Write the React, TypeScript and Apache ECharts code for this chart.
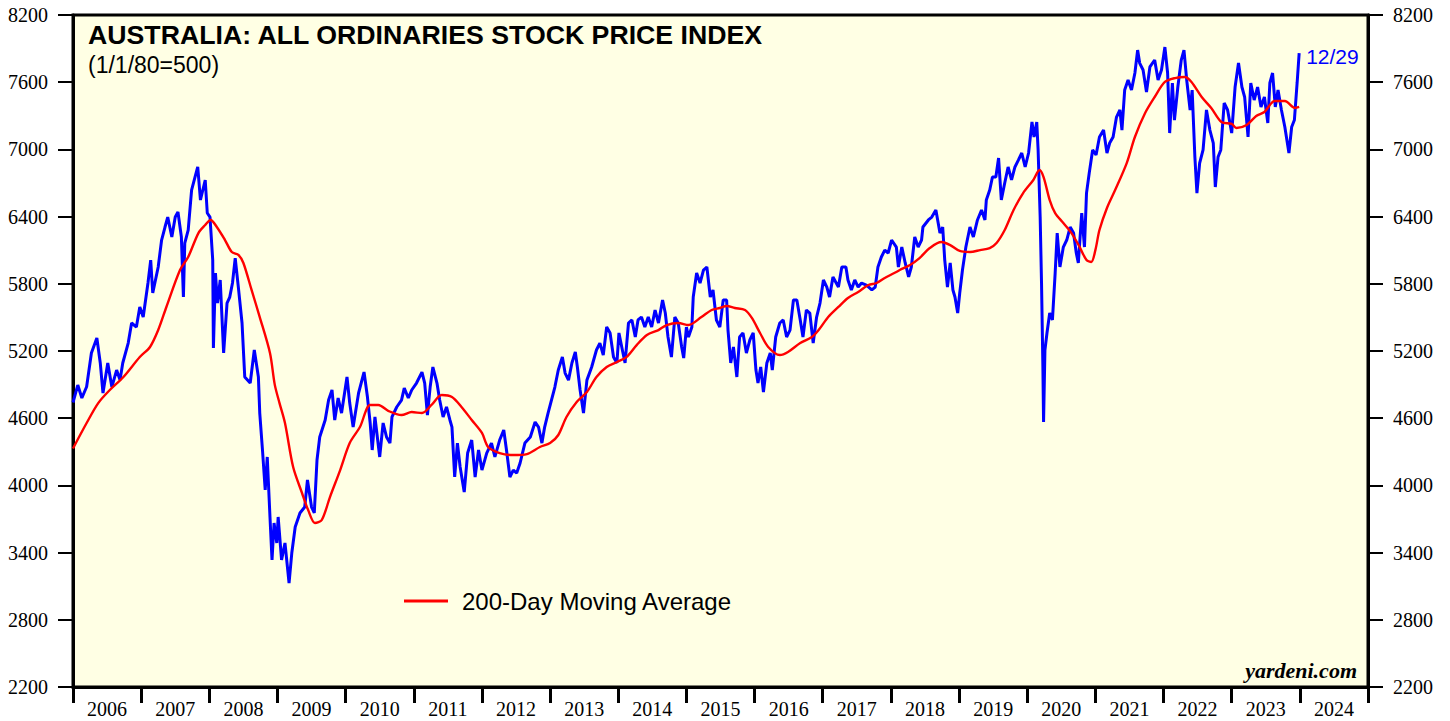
import React, { useEffect, useRef } from "react";
import * as echarts from "echarts";

const yearLabels = ["2006","2007","2008","2009","2010","2011","2012","2013","2014","2015","2016","2017","2018","2019","2020","2021","2022","2023","2024"];

// All Ordinaries (decimal year, index value)
const priceDates = [
2006.00,2006.07,2006.13,2006.20,2006.27,2006.35,2006.40,2006.44,2006.51,2006.57,2006.64,2006.69,2006.73,2006.81,2006.86,2006.93,2006.98,
2007.03,2007.10,2007.14,2007.17,2007.25,2007.30,2007.35,2007.39,2007.45,2007.50,2007.54,2007.59,2007.62,2007.64,2007.69,2007.74,2007.79,2007.83,2007.87,2007.94,2007.97,
2008.01,2008.05,2008.06,2008.09,2008.12,2008.16,2008.21,2008.26,2008.30,2008.34,2008.38,2008.43,2008.48,2008.52,2008.60,2008.66,2008.72,2008.74,2008.78,2008.82,2008.85,2008.89,2008.92,2008.95,2008.99,
2009.01,2009.06,2009.11,2009.17,2009.21,2009.26,2009.33,2009.40,2009.44,2009.50,2009.54,2009.58,2009.62,2009.70,2009.75,2009.80,2009.84,2009.89,2009.94,
2010.02,2010.06,2010.11,2010.19,2010.27,2010.32,2010.36,2010.39,2010.43,2010.50,2010.55,2010.60,2010.65,2010.68,2010.75,2010.82,2010.86,2010.92,2010.97,
2011.04,2011.12,2011.16,2011.20,2011.24,2011.28,2011.34,2011.38,2011.43,2011.48,2011.53,2011.56,2011.60,2011.64,2011.68,2011.74,2011.79,2011.85,2011.90,2011.95,
2012.00,2012.07,2012.14,2012.19,2012.26,2012.32,2012.36,2012.41,2012.46,2012.51,2012.56,2012.63,2012.71,2012.78,2012.83,2012.88,2012.92,2012.97,
2013.02,2013.07,2013.12,2013.18,2013.22,2013.27,2013.32,2013.37,2013.40,2013.44,2013.49,2013.54,2013.61,2013.68,2013.73,2013.78,2013.83,2013.88,2013.93,2013.98,
2014.01,2014.06,2014.10,2014.15,2014.20,2014.25,2014.29,2014.34,2014.39,2014.44,2014.49,2014.54,2014.59,2014.65,2014.69,2014.73,2014.78,2014.83,2014.88,2014.93,2014.96,
2015.00,2015.03,2015.08,2015.10,2015.15,2015.20,2015.25,2015.30,2015.35,2015.39,2015.44,2015.49,2015.54,2015.59,2015.61,2015.65,2015.69,2015.74,2015.78,2015.83,2015.88,2015.93,2015.98,
2016.02,2016.05,2016.09,2016.13,2016.18,2016.23,2016.26,2016.31,2016.37,2016.42,2016.47,2016.52,2016.57,2016.62,2016.67,2016.71,2016.76,2016.81,2016.86,2016.91,2016.96,
2017.01,2017.06,2017.10,2017.15,2017.23,2017.28,2017.34,2017.37,2017.42,2017.47,2017.52,2017.57,2017.64,2017.72,2017.77,2017.81,2017.86,2017.91,2017.96,
2018.01,2018.08,2018.11,2018.16,2018.21,2018.26,2018.30,2018.35,2018.40,2018.45,2018.47,2018.55,2018.60,2018.66,2018.72,2018.76,2018.79,2018.83,2018.87,2018.91,2018.94,2018.98,
2019.01,2019.05,2019.10,2019.16,2019.21,2019.27,2019.33,2019.38,2019.40,2019.45,2019.49,2019.54,2019.58,2019.62,2019.67,2019.72,2019.77,2019.82,2019.87,2019.92,2019.97,
2020.02,2020.07,2020.10,2020.14,2020.16,2020.19,2020.21,2020.23,2020.24,2020.26,2020.29,2020.33,2020.37,2020.41,2020.44,2020.48,2020.53,2020.58,2020.63,2020.68,2020.72,2020.75,2020.80,2020.84,2020.87,2020.91,2020.96,
2021.01,2021.06,2021.12,2021.17,2021.21,2021.26,2021.31,2021.36,2021.39,2021.43,2021.48,2021.53,2021.58,2021.62,2021.65,2021.70,2021.75,2021.80,2021.87,2021.92,2021.97,
2022.02,2022.06,2022.09,2022.13,2022.16,2022.21,2022.26,2022.30,2022.34,2022.39,2022.42,2022.46,2022.49,2022.53,2022.58,2022.63,2022.68,2022.73,2022.76,2022.80,2022.84,2022.89,2022.94,
2023.00,2023.05,2023.10,2023.15,2023.19,2023.24,2023.28,2023.33,2023.38,2023.43,2023.48,2023.53,2023.56,2023.60,2023.64,2023.68,2023.73,2023.78,2023.84,2023.88,2023.92,2023.96,2023.99
];
const priceValues = [
4740,4896,4780,4881,5182,5316,5093,4825,5093,4878,5030,4940,5093,5271,5450,5414,5593,
5503,5807,6012,5718,5950,6191,6307,6396,6218,6396,6441,6218,5682,6164,6280,6637,6753,6843,6548,6727,6432,
6396,6012,5227,5896,5628,5834,5182,5628,5682,5807,6030,5745,5450,4968,4914,5209,4968,4646,4316,3959,4254,3718,3334,3664,3486,
3718,3334,3486,3128,3396,3629,3754,3807,4048,3807,3754,4227,4432,4584,4762,4852,4584,4780,4646,
4968,4735,4521,4825,5012,4789,4557,4316,4611,4254,4557,4432,4378,4611,4700,4762,4869,4780,4852,
4914,5012,4914,4628,4878,5057,4914,4762,4611,4700,4584,4521,4075,4378,4164,3941,4289,4405,4075,4316,
4137,4289,4378,4254,4405,4494,4316,4075,4137,4110,4200,4378,4432,4566,4521,4378,4521,4646,
4762,4878,5030,5146,5003,4940,5093,5191,5057,4852,4646,4940,5057,5209,5271,5164,5414,5361,5146,5093,
5361,5209,5093,5450,5477,5325,5477,5503,5414,5503,5414,5566,5450,5655,5539,5325,5146,5503,5450,5236,5137,
5414,5325,5414,5682,5896,5807,5923,5950,5682,5745,5477,5414,5655,5655,5387,5093,5236,4968,5325,5361,5182,5298,5361,
5030,4914,5057,4834,5093,5182,5030,5325,5450,5477,5325,5387,5655,5655,5477,5325,5566,5539,5271,5503,5628,
5834,5771,5682,5861,5771,5950,5950,5834,5745,5834,5771,5807,5789,5745,5771,5950,6039,6101,6075,
6191,6128,5950,6128,5986,5861,5950,6218,6128,6191,6307,6370,6396,6459,6253,6307,6012,5771,5986,5745,5682,5539,
5718,5923,6128,6307,6218,6370,6459,6370,6548,6637,6753,6753,6923,6548,6700,6843,6727,6843,6905,6968,6843,
6968,7245,7111,7245,6995,6396,5807,5057,4566,5209,5361,5539,5477,5896,6253,5950,6128,6191,6307,6253,6075,5986,6432,6128,6610,6789,6995,
6950,7111,7173,6968,7057,7111,7289,7352,7173,7530,7620,7530,7682,7887,7771,7709,7512,7736,7798,7620,7709,
7914,7682,7146,7593,7262,7557,7798,7887,7620,7352,7530,6932,6610,6878,6995,7352,7173,7057,6664,6932,6995,7414,7352,
7146,7557,7771,7557,7468,7111,7593,7441,7557,7379,7468,7236,7593,7682,7379,7530,7352,7200,6968,7200,7262,7593,7860
];

// 200-day moving average (decimal year, index value)
const maDates = [
2006.00,2006.20,2006.37,2006.54,2006.74,2006.98,2007.13,2007.25,2007.37,2007.57,2007.69,2007.84,2007.94,
2008.02,2008.11,2008.23,2008.33,2008.43,2008.50,2008.62,2008.74,2008.89,2008.96,
2009.03,2009.11,2009.23,2009.36,2009.45,2009.55,2009.65,2009.77,2009.92,
2010.06,2010.21,2010.36,2010.48,2010.63,2010.82,2010.97,
2011.12,2011.26,2011.41,2011.56,2011.70,2011.85,
2012.00,2012.09,2012.26,2012.46,2012.66,2012.85,
2013.00,2013.12,2013.24,2013.39,2013.54,2013.68,2013.83,2013.98,
2014.12,2014.27,2014.42,2014.59,2014.71,2014.88,
2015.03,2015.22,2015.37,2015.49,2015.59,2015.71,2015.86,2015.96,
2016.08,2016.20,2016.37,2016.49,2016.67,2016.84,2016.94,
2017.08,2017.23,2017.37,2017.52,2017.67,2017.79,2017.91,
2018.05,2018.13,2018.28,2018.42,2018.57,2018.74,2018.87,
2019.01,2019.16,2019.31,2019.45,2019.55,2019.67,2019.80,2019.94,
2020.09,2020.18,2020.24,2020.33,2020.41,2020.53,2020.65,2020.77,2020.87,2020.94,
2021.00,2021.06,2021.17,2021.29,2021.46,2021.58,2021.73,2021.87,
2022.02,2022.17,2022.31,2022.41,2022.56,2022.70,2022.85,
2023.00,2023.07,2023.22,2023.36,2023.48,2023.63,2023.78,2023.93,2023.99
];
const maValues = [
4330,4557,4735,4852,4968,5146,5236,5387,5593,5923,6039,6253,6325,
6370,6307,6191,6084,6057,5986,5745,5503,5182,4900,
4735,4557,4164,3932,3780,3664,3691,3896,4137,
4378,4521,4718,4718,4664,4628,4655,
4646,4718,4807,4789,4700,4584,
4468,4343,4289,4271,4280,4343,
4378,4450,4611,4745,4834,4968,5057,5102,
5146,5253,5343,5387,5432,5450,
5432,5503,5566,5584,5602,5584,5566,5495,
5361,5236,5164,5191,5271,5325,5387,
5503,5593,5673,5727,5789,5807,5852,
5896,5923,5968,6030,6119,6173,6146,
6093,6084,6101,6119,6164,6280,6459,6610,
6727,6816,6753,6548,6432,6343,6253,6128,6012,5995,
6101,6280,6477,6637,6878,7111,7325,7468,
7602,7637,7646,7602,7468,7370,7245,
7227,7191,7218,7298,7334,7432,7432,7370,7379
];

const yTicks = { min: 2200, max: 8200, interval: 600 };

export default function App() {
  const ref = useRef<HTMLDivElement>(null);
  useEffect(() => {
    if (!ref.current) return;
    const chart = echarts.init(ref.current, null, { renderer: "svg" });
    const price = priceDates.map((d, i) => [d, priceValues[i]]);
    const ma = maDates.map((d, i) => [d, maValues[i]]);
    const serif = "'Liberation Serif', 'Times New Roman', serif";
    const sans = "'Liberation Sans', Arial, sans-serif";
    const yAxisCommon = {
      type: "value",
      min: yTicks.min,
      max: yTicks.max,
      interval: yTicks.interval,
      splitLine: { show: false },
      axisLine: { show: true, lineStyle: { color: "#000", width: 3 } },
      axisTick: { show: true, inside: false, length: 15, lineStyle: { color: "#000", width: 2 } },
      axisLabel: { color: "#000", fontFamily: serif, fontSize: 20, margin: 25, formatter: (v: number) => String(v) },
    };
    chart.setOption({
      animation: false,
      backgroundColor: "#fff",
      title: {
        text: "AUSTRALIA: ALL ORDINARIES STOCK PRICE INDEX",
        subtext: "(1/1/80=500)",
        left: 88,
        top: 21,
        padding: 0,
        itemGap: 5,
        textStyle: { fontFamily: sans, fontWeight: "bold", fontSize: 26.7, color: "#000" },
        subtextStyle: { fontFamily: sans, fontSize: 23, color: "#000" },
      },
      legend: {
        data: [{ name: "200-Day Moving Average", icon: "rect" }],
        left: 404,
        top: 589,
        padding: 0,
        itemWidth: 44,
        itemHeight: 3,
        itemGap: 12,
        textStyle: { fontFamily: sans, fontSize: 24, color: "#000", padding: [0, 0, 0, 9] },
      },
      grid: {
        left: 73,
        right: 82,
        top: 15,
        bottom: 34,
        show: true,
        backgroundColor: "#FFFFE4",
        borderColor: "#000",
        borderWidth: 3,
      },
      xAxis: [
        { type: "value", min: 2006, max: 2025, show: false },
        {
          type: "category",
          data: yearLabels,
          position: "bottom",
          boundaryGap: true,
          axisLine: { show: true, lineStyle: { color: "#000", width: 3 } },
          axisTick: { show: true, inside: false, length: 16, alignWithLabel: false, lineStyle: { color: "#000", width: 3 } },
          axisLabel: { color: "#000", fontFamily: serif, fontSize: 20, margin: 12, interval: 0 },
          splitLine: { show: false },
        },
      ],
      yAxis: [
        { ...yAxisCommon, position: "left" },
        { ...yAxisCommon, position: "right" },
      ],
      graphic: [
        {
          type: "text",
          right: 93,
          top: 659,
          style: {
            text: "yardeni.com",
            font: "italic bold 22px 'Liberation Serif', serif",
            fill: "#000",
          },
        },
      ],
      series: [
        {
          name: "All Ordinaries",
          type: "line",
          xAxisIndex: 0,
          yAxisIndex: 0,
          data: price,
          symbol: "none",
          lineStyle: { color: "#0000FF", width: 3 },
          itemStyle: { color: "#0000FF" },
          endLabel: {
            show: true,
            formatter: "12/29",
            color: "#0000FF",
            fontFamily: sans,
            fontSize: 21,
            distance: 7,
            offset: [0, 3],
          },
          z: 2,
        },
        {
          name: "200-Day Moving Average",
          type: "line",
          xAxisIndex: 0,
          yAxisIndex: 0,
          data: ma,
          symbol: "none",
          smooth: 0.3,
          lineStyle: { color: "#FF0000", width: 2.4 },
          itemStyle: { color: "#FF0000" },
          z: 3,
        },
      ],
    });
    return () => chart.dispose();
  }, []);
  return <div ref={ref} style={{ position: "fixed", left: 0, top: 0, width: 1450, height: 721 }} />;
}
